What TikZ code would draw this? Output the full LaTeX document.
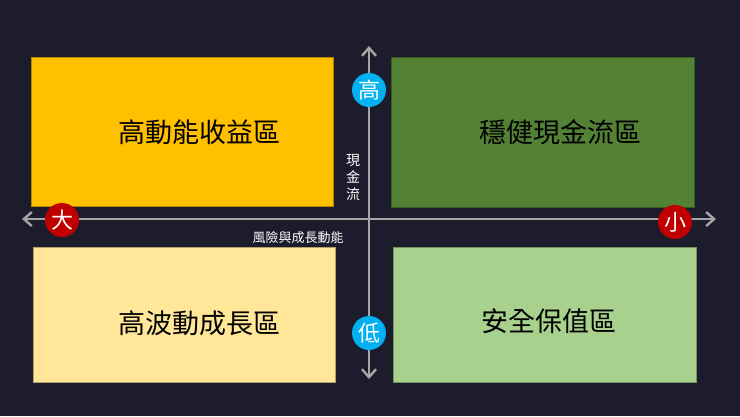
\documentclass[tikz,border=0pt]{standalone}
\usepackage{fontspec}
\newfontfamily\cjk{Noto Sans CJK TC}
\usetikzlibrary{arrows.meta}
\definecolor{bg}{HTML}{1D1C2C}
\definecolor{axis}{HTML}{A6A6A6}
\definecolor{qorange}{RGB}{255,192,0}
\definecolor{qgreen}{RGB}{84,130,53}
\definecolor{qlyellow}{RGB}{255,230,153}
\definecolor{qlgreen}{RGB}{169,209,142}
\definecolor{bblue}{RGB}{0,176,240}
\definecolor{bred}{RGB}{192,0,0}
\tikzset{
  quad/.style={draw=#1!70!black,fill=#1,line width=0.6pt},
  qlabel/.style={font=\cjk\fontsize{27}{30}\selectfont,text=black},
  badge/.style={circle,fill=#1,minimum size=34pt,inner sep=0pt,text=white,font=\cjk\fontsize{22}{24}\selectfont},
  axisline/.style={draw=axis,line width=2.4pt,{Straight Barb[length=8pt,width=14pt,line width=2.4pt]}-{Straight Barb[length=8pt,width=14pt,line width=2.4pt]}}
}
\begin{document}
\begin{tikzpicture}[x=1pt,y=-1pt]
\fill[bg] (0,0) rectangle (740,416);
\useasboundingbox (0,0) rectangle (740,416);
\filldraw[quad=qorange] (31,57) rectangle (333,206);
\filldraw[quad=qgreen] (391,57) rectangle (694,207);
\filldraw[quad=qlyellow] (33,247) rectangle (335,382);
\filldraw[quad=qlgreen] (393,247) rectangle (696,382);
\node[qlabel] (q1) at (199,132) {高動能收益區};
\node[qlabel] (q2) at (560,132) {穩健現金流區};
\node[qlabel] (q3) at (199,323) {高波動成長區};
\node[qlabel] (q4) at (549,321) {安全保值區};
\coordinate (l) at (22,219); \coordinate (r) at (716,219);
\coordinate (t) at (369,46); \coordinate (b) at (369,379);
\draw[axisline] (l) -- (r);
\draw[axisline] (b) -- (t);
\node[badge=bblue] (hi) at (369,90) {高};
\node[badge=bblue] (lo) at (369,333) {低};
\node[badge=bred] (big) at (62,220) {大};
\node[badge=bred] (small) at (675,222) {小};
\node[text=white,font=\cjk\fontsize{14}{17}\selectfont,align=center] (cf) at (353,177) {現\\金\\流};
\node[text=white,font=\cjk\fontsize{13}{15}\selectfont] (rg) at (298,238) {風險與成長動能};
\end{tikzpicture}
\end{document}
